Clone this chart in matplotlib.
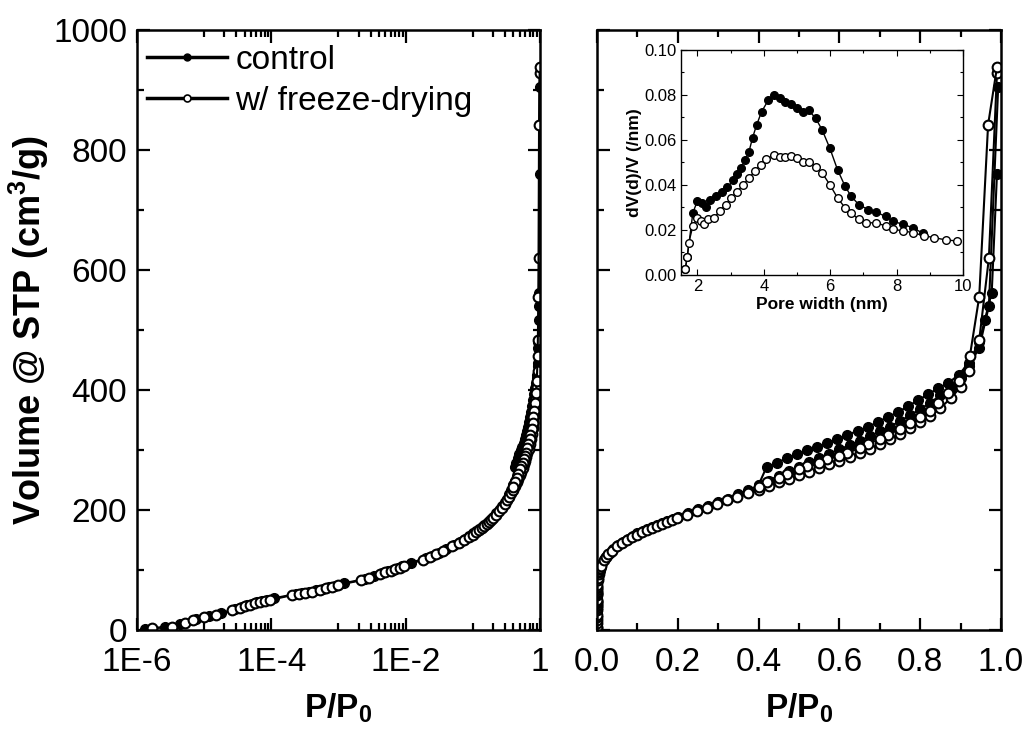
import matplotlib
matplotlib.use('Agg')
import matplotlib.pyplot as plt
from matplotlib.lines import Line2D
from matplotlib.ticker import FixedLocator, MultipleLocator, NullFormatter, FormatStrFormatter

plt.rcParams['font.family'] = ['Liberation Sans', 'DejaVu Sans']
plt.rcParams['mathtext.fontset'] = 'custom'
plt.rcParams['mathtext.rm'] = 'Liberation Sans'
plt.rcParams['mathtext.bf'] = 'Liberation Sans:bold'
plt.rcParams['mathtext.it'] = 'Liberation Sans:italic'

# ---- isotherm data (P/P0, volume cm3/g) ----
# freeze-drying, adsorption branch
p_fd_ads = [1.7e-6, 3.3e-6, 5.2e-6, 6.8e-6, 1.0e-5, 1.5e-5, 2.6e-5, 3.4e-5, 4.0e-5, 4.8e-5,
            5.7e-5, 6.7e-5, 8.0e-5, 9.5e-5, 2.0e-4, 2.6e-4, 3.2e-4, 4.0e-4, 5.3e-4, 6.5e-4,
            8.0e-4, 9.8e-4, 2.2e-3, 2.8e-3, 4.1e-3, 5.0e-3, 6.0e-3, 7.0e-3, 8.2e-3, 9.5e-3,
            0.018, 0.023, 0.028, 0.036, 0.049, 0.062, 0.074, 0.087, 0.099, 0.112,
            0.124, 0.136, 0.148, 0.161, 0.173, 0.186, 0.198, 0.223, 0.248, 0.272,
            0.297, 0.322, 0.347, 0.374, 0.40, 0.425, 0.45, 0.475, 0.50, 0.525,
            0.55, 0.575, 0.60, 0.625, 0.65, 0.675, 0.70, 0.725, 0.75, 0.775,
            0.80, 0.825, 0.85, 0.875, 0.90, 0.92, 0.946, 0.97, 0.99]
v_fd_ads = [3, 5, 12, 17, 21, 25, 33, 37, 40, 42,
            45, 47, 49, 50, 58, 60, 62, 64, 67, 70,
            72, 75, 83, 87, 93, 96, 99, 101, 104, 107,
            117, 122, 126, 132, 140, 145, 150, 155, 159, 163,
            167, 170, 173, 177, 180, 183, 186, 192, 198, 204,
            210, 216, 222, 228, 234, 240, 246, 252, 258, 264,
            270, 276, 282, 288, 295, 302, 310, 318, 327, 336,
            346, 357, 370, 386, 405, 432, 483, 620, 928]
# freeze-drying, desorption branch
p_fd_des = [0.99, 0.968, 0.946, 0.923, 0.896, 0.87, 0.845, 0.824, 0.80, 0.775,
            0.75, 0.72, 0.70, 0.67, 0.65, 0.62, 0.60, 0.57, 0.55, 0.52,
            0.50, 0.47, 0.45, 0.42, 0.40]
v_fd_des = [938, 842, 555, 457, 415, 395, 378, 365, 355, 345,
            335, 325, 318, 310, 303, 295, 290, 285, 278, 273,
            268, 260, 253, 247, 238]

# control, adsorption branch
p_ct_ads = [1.3e-6, 2.6e-6, 4.4e-6, 7.5e-6, 1.2e-5, 1.8e-5, 2.9e-5, 3.7e-5, 4.4e-5, 5.2e-5,
            6.2e-5, 7.3e-5, 8.7e-5, 1.1e-4, 2.3e-4, 2.9e-4, 3.6e-4, 4.6e-4, 5.9e-4, 7.2e-4,
            8.9e-4, 1.2e-3, 2.5e-3, 3.4e-3, 4.5e-3, 5.5e-3, 6.5e-3, 7.6e-3, 8.8e-3, 0.012,
            0.02, 0.025, 0.031, 0.04, 0.052, 0.064, 0.076, 0.089, 0.1, 0.113,
            0.125, 0.137, 0.149, 0.162, 0.174, 0.187, 0.2, 0.225, 0.25, 0.274,
            0.299, 0.324, 0.349, 0.374, 0.40, 0.425, 0.45, 0.475, 0.50, 0.525,
            0.55, 0.575, 0.60, 0.625, 0.65, 0.675, 0.70, 0.725, 0.75, 0.775,
            0.80, 0.825, 0.85, 0.875, 0.90, 0.92, 0.946, 0.97, 0.993]
v_ct_ads = [2, 5, 10, 18, 23, 28, 35, 39, 41, 44,
            46, 48, 50, 53, 60, 61, 63, 66, 69, 71,
            74, 78, 85, 90, 95, 98, 100, 103, 106, 112,
            120, 124, 128, 135, 142, 147, 152, 157, 161, 165,
            169, 172, 175, 179, 182, 185, 189, 195, 201, 207,
            213, 219, 226, 233, 241, 249, 257, 265, 272, 280,
            287, 294, 301, 308, 315, 323, 331, 339, 348, 358,
            368, 379, 391, 404, 420, 440, 470, 540, 905]
# control, desorption branch
p_ct_des = [0.99, 0.977, 0.96, 0.946, 0.92, 0.895, 0.87, 0.845, 0.82, 0.795,
            0.77, 0.745, 0.72, 0.696, 0.67, 0.645, 0.62, 0.595, 0.57, 0.545,
            0.52, 0.495, 0.47, 0.445, 0.42, 0.40]
v_ct_des = [760, 562, 517, 480, 445, 425, 412, 403, 393, 383,
            373, 363, 355, 347, 338, 332, 325, 318, 312, 305,
            300, 293, 287, 278, 272, 242]

# ---- pore size distribution (inset) ----
w_ct = [1.63, 1.69, 1.86, 2.0, 2.15, 2.27, 2.38, 2.56, 2.73, 2.9,
        3.08, 3.2, 3.31, 3.43, 3.55, 3.66, 3.78, 3.93, 4.13, 4.3,
        4.48, 4.65, 4.83, 5.0, 5.17, 5.35, 5.56, 5.76, 5.99, 6.22,
        6.45, 6.63, 6.86, 7.15, 7.38, 7.67, 7.9, 8.2, 8.49, 8.8]
d_ct = [0.0026, 0.0078, 0.0276, 0.033, 0.032, 0.030, 0.0335, 0.035, 0.037, 0.039,
        0.042, 0.045, 0.0475, 0.051, 0.0547, 0.061, 0.0666, 0.0725, 0.0776, 0.080,
        0.0785, 0.077, 0.0759, 0.074, 0.0725, 0.0732, 0.0697, 0.0644, 0.0563, 0.0468,
        0.0394, 0.035, 0.0313, 0.029, 0.028, 0.026, 0.0238, 0.0225, 0.021, 0.0185]
w_fd = [1.63, 1.69, 1.74, 1.86, 2.0, 2.12, 2.21, 2.33, 2.5, 2.67,
        2.85, 3.02, 3.2, 3.37, 3.55, 3.72, 3.9, 4.07, 4.3, 4.48,
        4.65, 4.83, 5.0, 5.17, 5.35, 5.56, 5.76, 5.99, 6.22, 6.45,
        6.63, 6.86, 7.09, 7.38, 7.67, 7.9, 8.2, 8.49, 8.84, 9.13,
        9.48, 9.83]
d_fd = [0.0026, 0.0078, 0.0144, 0.0218, 0.0254, 0.024, 0.0225, 0.0247, 0.0254, 0.0284,
        0.0313, 0.0343, 0.037, 0.040, 0.043, 0.046, 0.049, 0.0515, 0.0533, 0.0526,
        0.0526, 0.053, 0.0519, 0.0504, 0.0504, 0.0482, 0.0453, 0.0401, 0.0343, 0.0298,
        0.0276, 0.0247, 0.0232, 0.0232, 0.0218, 0.0203, 0.0196, 0.0188, 0.0174, 0.0166,
        0.0156, 0.0151]

log_ticks = [1e-6, 1e-4, 1e-2, 1]
log_labels = ['1E-6', '1E-4', '1E-2', '1']
log_minor = [k * 10.0 ** e for e in (-5, -3, -1) for k in range(1, 10)]


def style_axes(ax, fs=24):
    for s in ax.spines.values():
        s.set_linewidth(1.8)
    ax.tick_params(which='both', direction='in', top=True, right=True, width=1.6, labelsize=fs)
    ax.tick_params(which='major', length=9)
    ax.tick_params(which='minor', length=5)
    ax.tick_params(axis='x', pad=12)
    ax.tick_params(axis='y', pad=7)
    for lab in ax.get_yticklabels():
        lab.set_verticalalignment('center_baseline')


def plot_iso(ax):
    # control (filled) first, freeze-dried (open) on top
    ax.plot(p_ct_ads, v_ct_ads, '-o', color='black', mfc='black', mec='black', ms=7, lw=1.5)
    ax.plot(p_ct_des, v_ct_des, '-o', color='black', mfc='black', mec='black', ms=7, lw=1.5)
    ax.plot(p_fd_ads, v_fd_ads, '-o', color='black', mfc='white', mec='black', ms=7, mew=1.5, lw=1.5)
    ax.plot(p_fd_des, v_fd_des, '-o', color='black', mfc='white', mec='black', ms=7, mew=1.5, lw=1.5)


fig = plt.figure(figsize=(10.27, 7.44), dpi=100)

# left panel: log scale
ax1 = fig.add_axes([0.1334, 0.1532, 0.3924, 0.8065])
plot_iso(ax1)
ax1.set_xscale('log')
ax1.set_xlim(1e-6, 1)
ax1.set_ylim(0, 1000)
ax1.xaxis.set_major_locator(FixedLocator(log_ticks))
ax1.set_xticklabels(log_labels)
ax1.xaxis.set_minor_locator(FixedLocator(log_minor))
ax1.xaxis.set_minor_formatter(NullFormatter())
ax1.yaxis.set_major_locator(MultipleLocator(200))
ax1.yaxis.set_minor_locator(MultipleLocator(100))
style_axes(ax1)
ax1.set_xlabel(r'$\mathbf{P/P_0}$', fontsize=24, labelpad=10)
ax1.set_ylabel(r'Volume @ STP (cm$^\mathbf{3}$/g)', fontsize=26, fontweight='bold', labelpad=2)

# legend
h1 = Line2D([], [], color='black', lw=2.5, marker='o', ms=5, mfc='black', mec='black')
h2 = Line2D([], [], color='black', lw=2.5, marker='o', ms=5, mfc='white', mec='black', mew=1.2)
ax1.legend([h1, h2], ['control', 'w/ freeze-drying'], loc='upper left', frameon=False,
           fontsize=24, handlelength=2.4, handletextpad=0.25, labelspacing=0.3,
           borderpad=0, borderaxespad=0, bbox_to_anchor=(0.025, 0.975))

# right panel: linear scale
ax2 = fig.add_axes([0.5813, 0.1532, 0.3934, 0.8065])
plot_iso(ax2)
ax2.set_xlim(0, 1.0)
ax2.set_ylim(0, 1000)
ax2.xaxis.set_major_locator(MultipleLocator(0.2))
ax2.xaxis.set_minor_locator(MultipleLocator(0.1))
ax2.xaxis.set_major_formatter(FormatStrFormatter('%.1f'))
ax2.yaxis.set_major_locator(MultipleLocator(200))
ax2.yaxis.set_minor_locator(MultipleLocator(100))
style_axes(ax2)
ax2.tick_params(axis='y', labelleft=False)
ax2.set_xlabel(r'$\mathbf{P/P_0}$', fontsize=24, labelpad=10)

# inset: pore size distribution
ax3 = fig.add_axes([0.663, 0.6304, 0.2746, 0.3024])
ax3.plot(w_ct, d_ct, '-o', color='black', mfc='black', mec='black', ms=5.5, lw=1.0)
ax3.plot(w_fd, d_fd, '-o', color='black', mfc='white', mec='black', ms=5.5, mew=1.0, lw=1.0)
ax3.set_xlim(1.5, 10)
ax3.set_ylim(0, 0.10)
ax3.xaxis.set_major_locator(MultipleLocator(2))
ax3.xaxis.set_minor_locator(MultipleLocator(1))
ax3.yaxis.set_major_locator(MultipleLocator(0.02))
ax3.yaxis.set_minor_locator(MultipleLocator(0.01))
ax3.yaxis.set_major_formatter(FormatStrFormatter('%.2f'))
for s in ax3.spines.values():
    s.set_linewidth(1.0)
ax3.tick_params(which='both', direction='in', top=True, right=True, width=0.8, labelsize=12, pad=3)
ax3.tick_params(which='major', length=4)
ax3.tick_params(which='minor', length=2.5)
ax3.set_xlabel('Pore width (nm)', fontsize=12.5, fontweight='bold', labelpad=2)
ax3.set_ylabel('dV(d)/V (/nm)', fontsize=12.5, fontweight='bold', labelpad=2)

fig.savefig('out.png', dpi=100)
